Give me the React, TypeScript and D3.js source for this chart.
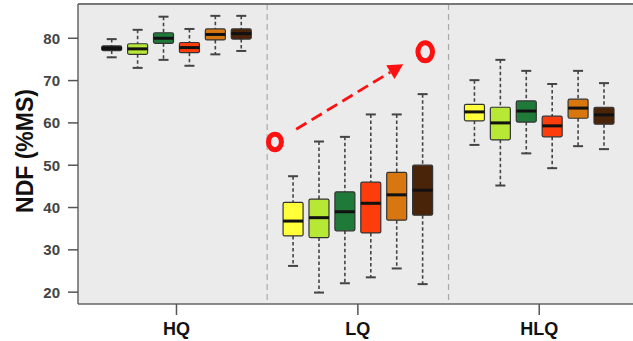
import * as d3 from 'd3';

const groups = ['HQ', 'LQ', 'HLQ'];
const boxColors = ['#ffff3a', '#b8e836', '#1f7a3a', '#ff3c0c', '#d8770f', '#4a2408'];
const hqFirstColor = '#151515';

// [lower whisker, q1, median, q3, upper whisker] per box
const hqStats = [
  [75.5, 77.1, 77.6, 78.2, 79.8],
  [73.0, 76.2, 77.5, 78.7, 82.0],
  [74.9, 78.8, 80.0, 81.3, 85.1],
  [73.5, 76.6, 77.8, 79.0, 82.2],
  [76.2, 79.6, 80.9, 82.2, 85.3],
  [77.0, 79.8, 81.1, 82.2, 85.3],
];
const lqStats = [
  [26.2, 33.3, 36.8, 41.2, 47.4],
  [19.9, 32.9, 37.6, 42.0, 55.6],
  [22.1, 34.5, 39.0, 43.7, 56.7],
  [23.5, 34.0, 41.0, 46.0, 62.0],
  [25.6, 37.0, 43.0, 48.3, 62.0],
  [21.9, 38.2, 44.1, 50.0, 66.8],
];
const hlqStats = [
  [54.8, 60.5, 62.6, 64.4, 70.1],
  [45.2, 56.0, 60.0, 63.7, 74.9],
  [52.8, 60.2, 62.8, 65.2, 72.3],
  [49.3, 56.7, 59.3, 61.6, 69.2],
  [54.5, 61.1, 63.5, 65.6, 72.3],
  [53.8, 59.7, 61.9, 63.7, 69.4],
];
const groupStats = [hqStats, lqStats, hlqStats];
const yTicks = [20, 30, 40, 50, 60, 70, 80];

// red annotation: circle, arrow, circle (slot, value)
const annoCircles = [[6.3, 55.5], [12.1, 76.8]];
const annoArrow = [[7.12, 58.5], [11.25, 73.85]];

const W = 633;
const H = 341;
const left = 78;
const top = 4;
const bottom = 304;

const y = d3.scaleLinear().domain([17.2, 88.1]).range([bottom, top]);
const slot = d3.scaleLinear().domain([0, 19]).range([111.7, 604]);
const boxW = 20;
const font = '"Liberation Sans", Arial, sans-serif';

export default function App() {
  const items = groupStats.flatMap((stats, gi) =>
    stats.map((s, bi) => ({
      cx: slot(gi * 7 + bi),
      s,
      fill: gi === 0 && bi === 0 ? hqFirstColor : boxColors[bi],
      key: `${gi}-${bi}`,
    }))
  );

  const [a0, a1] = annoArrow;
  const x0 = slot(a0[0]);
  const y0 = y(a0[1]);
  const x1 = slot(a1[0]);
  const y1 = y(a1[1]);
  const len = Math.hypot(x1 - x0, y1 - y0);
  const ux = (x1 - x0) / len;
  const uy = (y1 - y0) / len;
  const headL = 15;
  const headW = 8;
  const bx = x1 - ux * headL;
  const by = y1 - uy * headL;
  const head = [
    [x1, y1],
    [bx - uy * headW, by + ux * headW],
    [bx + uy * headW, by - ux * headW],
  ];

  return (
    <svg width={W} height={H} style={{ position: 'absolute', left: 0, top: 0 }}>
      <rect x={0} y={0} width={W} height={H} fill="#fff" />
      <rect x={left} y={top} width={W - left + 2} height={bottom - top} fill="#ebebeb" />

      {[6, 13].map(s => (
        <line key={s} x1={slot(s)} x2={slot(s)} y1={top} y2={bottom}
          stroke="#aaa" strokeWidth={1.2} strokeDasharray="6,4" />
      ))}

      {/* frame */}
      <line x1={left} x2={W} y1={top} y2={top} stroke="#777" strokeWidth={2} />
      <line x1={left} x2={left} y1={top} y2={bottom} stroke="#666" strokeWidth={1.5} />
      <line x1={left} x2={W} y1={bottom} y2={bottom} stroke="#666" strokeWidth={1.5} />

      {/* y axis */}
      {yTicks.map(t => (
        <g key={t}>
          <line x1={68} x2={left} y1={y(t)} y2={y(t)} stroke="#555" strokeWidth={1.5} />
          <text x={60} y={y(t)} dy="0.36em" textAnchor="end" fontFamily={font}
            fontSize={15} fontWeight="bold" fill="#444">{t}</text>
        </g>
      ))}
      <text transform={`translate(33,${(88 + 214) / 2}) rotate(-90)`} textAnchor="middle"
        fontFamily={font} fontSize={23} fontWeight="bold" fill="#111">NDF (%MS)</text>

      {/* x axis */}
      {groups.map((g, gi) => {
        const cx = slot(gi * 7 + 2.5);
        return (
          <g key={g}>
            <line x1={cx} x2={cx} y1={bottom} y2={315} stroke="#555" strokeWidth={1.5} />
            <text x={cx} y={335} textAnchor="middle" fontFamily={font} fontSize={18}
              fontWeight="bold" fill="#111">{g}</text>
          </g>
        );
      })}

      {/* boxes */}
      {items.map(({ cx, s, fill, key }) => {
        const [lo, q1, md, q3, hi] = s;
        return (
          <g key={key}>
            <line x1={cx} x2={cx} y1={y(hi)} y2={y(q3)} stroke="#444" strokeWidth={1.6} strokeDasharray="3.5,2.5" />
            <line x1={cx} x2={cx} y1={y(q1)} y2={y(lo)} stroke="#444" strokeWidth={1.6} strokeDasharray="3.5,2.5" />
            <line x1={cx - 5} x2={cx + 5} y1={y(hi)} y2={y(hi)} stroke="#444" strokeWidth={2} />
            <line x1={cx - 5} x2={cx + 5} y1={y(lo)} y2={y(lo)} stroke="#444" strokeWidth={2} />
            <rect x={cx - boxW / 2} y={y(q3)} width={boxW} height={y(q1) - y(q3)}
              fill={fill} stroke="#333" strokeWidth={1.2} rx={1.5} />
            <line x1={cx - boxW / 2} x2={cx + boxW / 2} y1={y(md)} y2={y(md)} stroke="#111" strokeWidth={3} />
          </g>
        );
      })}

      {/* annotation */}
      <line x1={x0} y1={y0} x2={bx} y2={by} stroke="#ff1010" strokeWidth={2.8} strokeDasharray="12,6" />
      <path d={d3.line()(head as [number, number][]) + 'Z'} fill="#ff1010" />
      {annoCircles.map(([sx, v], i) => (
        <ellipse key={i} cx={slot(sx)} cy={y(v)} rx={i === 0 ? 6.5 : 7.3} ry={i === 0 ? 7.8 : 9}
          fill="none" stroke="#ff1010" strokeWidth={5} />
      ))}
    </svg>
  );
}
